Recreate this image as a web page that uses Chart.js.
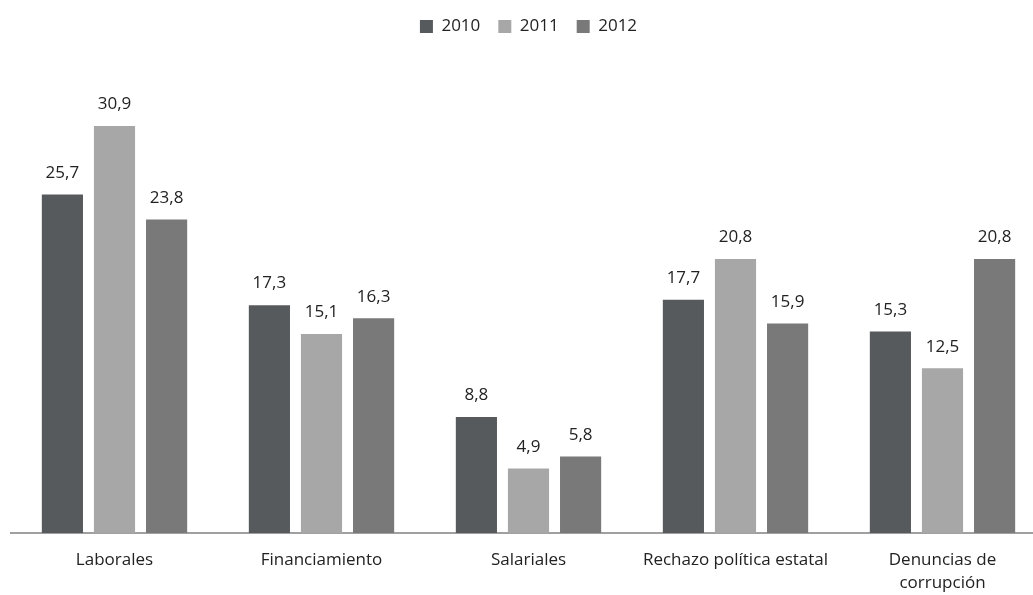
<!DOCTYPE html>
<html>
<head>
<meta charset="utf-8">
<script src="https://cdn.jsdelivr.net/npm/chart.js@4/dist/chart.umd.min.js"></script>
<style>
  html, body { margin: 0; padding: 0; background: #fff; overflow: hidden; }
  /* wider than the window: the plot runs past the right edge, as in the original crop */
  #wrap { width: 1058px; height: 595px; }
</style>
</head>
<body>
<div id="wrap"><canvas id="chart"></canvas></div>
<script>
const categories = ["Laborales", "Financiamiento", "Salariales", "Rechazo política estatal", ["Denuncias de", "corrupción"]];
const years = ["2010", "2011", "2012"];
const values2010 = [25.7, 17.3, 8.8, 17.7, 15.3];
const values2011 = [30.9, 15.1, 4.9, 20.8, 12.5];
const values2012 = [23.8, 16.3, 5.8, 15.9, 20.8];
const colors = ["#575a5d", "#a7a7a7", "#797979"];

const fontFamily = "'Open Sans', 'DejaVu Sans', sans-serif";

const valueLabels = {
  id: "valueLabels",
  afterDatasetsDraw(chart) {
    const ctx = chart.ctx;
    ctx.save();
    ctx.font = "17px " + fontFamily;
    ctx.fillStyle = "#222";
    ctx.textAlign = "center";
    ctx.textBaseline = "bottom";
    chart.data.datasets.forEach((ds, i) => {
      chart.getDatasetMeta(i).data.forEach((bar, j) => {
        const text = ds.data[j].toFixed(1).replace(".", ",");
        ctx.fillText(text, bar.x, bar.y - 13);
      });
    });
    ctx.restore();
  }
};

// extra room under the legend
const legendSpacer = {
  id: "legendSpacer",
  beforeInit(chart) {
    const fit = chart.legend.fit;
    chart.legend.fit = function () {
      fit.call(this);
      this.height += 27;
    };
  }
};

new Chart(document.getElementById("chart"), {
  type: "bar",
  data: {
    labels: categories,
    datasets: [
      { label: years[0], data: values2010, backgroundColor: colors[0] },
      { label: years[1], data: values2011, backgroundColor: colors[1] },
      { label: years[2], data: values2012, backgroundColor: colors[2] }
    ]
  },
  options: {
    responsive: true,
    maintainAspectRatio: false,
    animation: false,
    layout: { padding: { left: 11, right: 12, top: 0, bottom: 0 } },
    datasets: {
      bar: { barPercentage: 0.79, categoryPercentage: 0.755 }
    },
    plugins: {
      legend: {
        position: "top",
        labels: {
          boxWidth: 13,
          boxHeight: 13,
          padding: 18,
          color: "#222",
          font: { family: fontFamily, size: 17 }
        }
      },
      tooltip: { enabled: false }
    },
    scales: {
      x: {
        afterFit(scale) { scale.height = 62; },
        grid: { display: false, drawTicks: false },
        border: { color: "#a0a0a0", width: 2 },
        ticks: {
          color: "#222",
          padding: 16,
          maxRotation: 0,
          font: { family: fontFamily, size: 17, lineHeight: 1.35 }
        }
      },
      y: {
        display: false,
        min: 0,
        max: 35
      }
    }
  },
  plugins: [valueLabels, legendSpacer]
});
</script>
</body>
</html>
